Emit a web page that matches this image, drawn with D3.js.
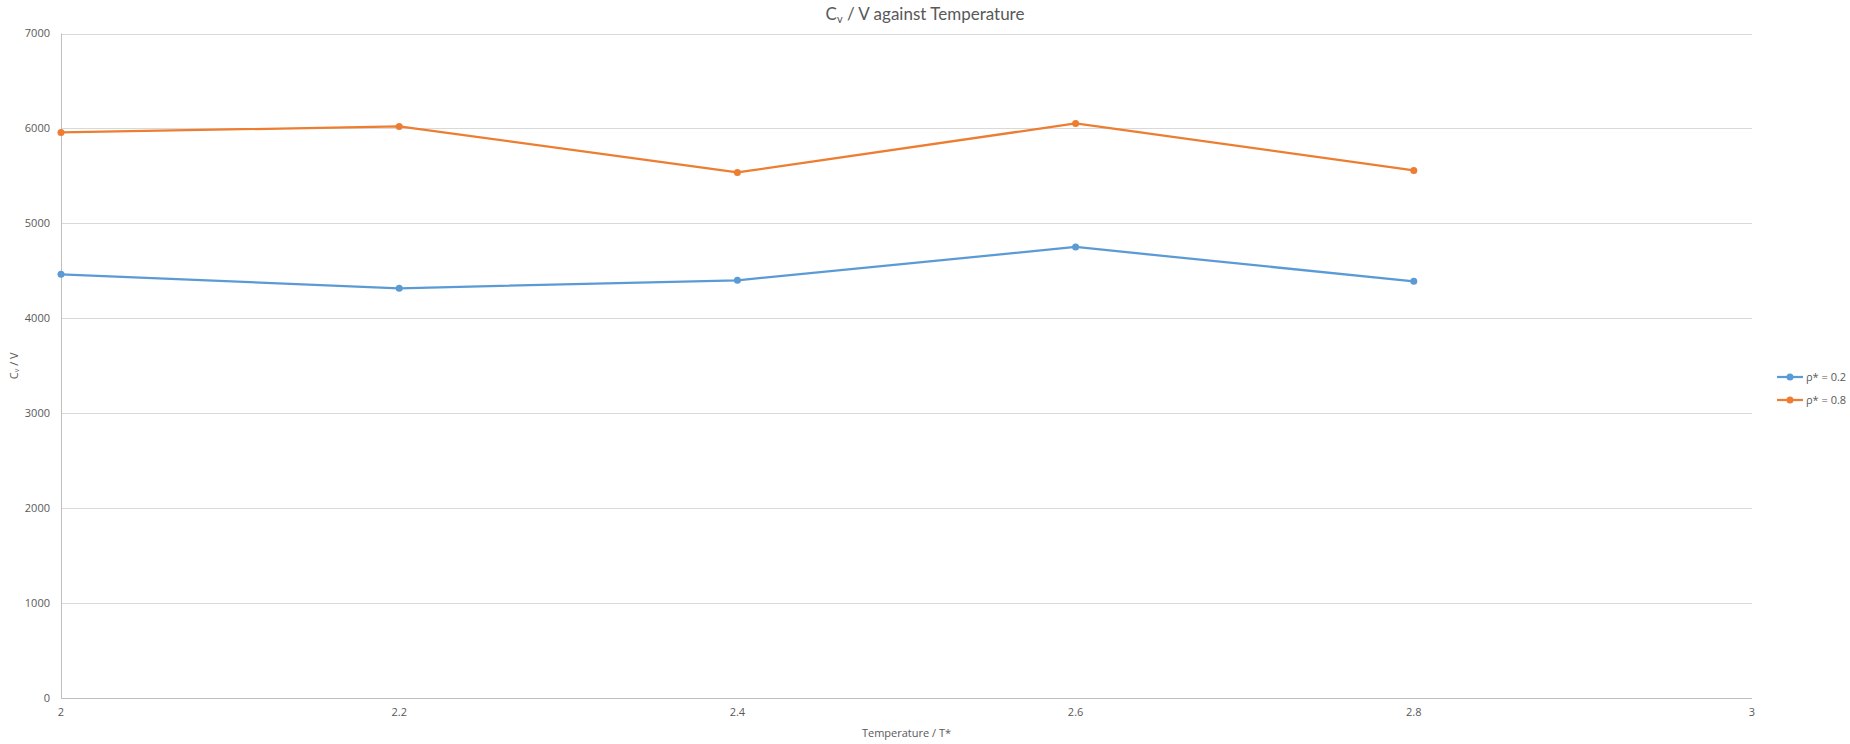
<!DOCTYPE html>
<html lang="en">
<head>
    <meta charset="UTF-8">
    <title>Cv / V against Temperature</title>
    <script src="https://cdn.jsdelivr.net/npm/d3@7"></script>
    <style>
        body {
            margin: 0;
            background: #fff;
        }

        svg text {
            font-family: "Open Sans", "Liberation Sans", sans-serif;
            fill: #595959;
        }

        .grid line {
            stroke: #d9d9d9;
            stroke-width: 1px
        }

        .axis-line {
            stroke: #bfbfbf;
            stroke-width: 1px
        }
    </style>
</head>
<body>
<div id="chart"></div>

<script>
    // values
    var temps = [2, 2.2, 2.4, 2.6, 2.8];
    var cvLow = [4463, 4316, 4400, 4751, 4389];    // rho* = 0.2
    var cvHigh = [5958, 6021, 5537, 6053, 5558];   // rho* = 0.8
    var seriesNames = ['ρ* = 0.2', 'ρ* = 0.8'];
    var seriesColors = ['#5b9bd5', '#ed7d31'];
    var yTicks = [0, 1000, 2000, 3000, 4000, 5000, 6000, 7000];
    var xTicks = [2, 2.2, 2.4, 2.6, 2.8, 3];

    var width = 1850, height = 744;
    var margin = {top: 33.5, right: 98, bottom: 46, left: 61};

    var svg = d3.select('#chart')
        .append('svg')
        .attr('width', width)
        .attr('height', height);

    var x = d3.scaleLinear()
        .domain([2, 3])
        .range([margin.left, width - margin.right]);

    var y = d3.scaleLinear()
        .domain([0, 7000])
        .range([height - margin.bottom, margin.top]);

    // gridlines
    svg.append('g')
        .attr('class', 'grid')
        .selectAll('line')
        .data(yTicks.filter(d => d > 0))
        .enter()
        .append('line')
        .attr('x1', x(2))
        .attr('x2', x(3))
        .attr('y1', d => Math.round(y(d)) + 0.5)
        .attr('y2', d => Math.round(y(d)) + 0.5);

    // axis lines
    svg.append('line')
        .attr('class', 'axis-line')
        .attr('x1', Math.round(x(2)) + 0.5)
        .attr('x2', Math.round(x(2)) + 0.5)
        .attr('y1', y(7000))
        .attr('y2', y(0));
    svg.append('line')
        .attr('class', 'axis-line')
        .attr('x1', x(2))
        .attr('x2', x(3))
        .attr('y1', Math.round(y(0)) + 0.5)
        .attr('y2', Math.round(y(0)) + 0.5);

    // tick labels
    svg.append('g')
        .selectAll('text')
        .data(yTicks)
        .enter()
        .append('text')
        .attr('x', x(2) - 11)
        .attr('y', d => y(d))
        .attr('dy', '0.35em')
        .attr('text-anchor', 'end')
        .style('font-size', '11px')
        .text(d => d);

    svg.append('g')
        .selectAll('text')
        .data(xTicks)
        .enter()
        .append('text')
        .attr('x', d => x(d))
        .attr('y', y(0) + 14)
        .attr('dy', '0.35em')
        .attr('text-anchor', 'middle')
        .style('font-size', '11px')
        .text(d => d);

    // series
    var series = [cvLow, cvHigh];
    var line = d3.line()
        .x((d, i) => x(temps[i]))
        .y(d => y(d));

    series.forEach(function (vals, s) {
        svg.append('path')
            .datum(vals)
            .attr('fill', 'none')
            .attr('stroke', seriesColors[s])
            .attr('stroke-width', 2.25)
            .attr('stroke-linejoin', 'round')
            .attr('d', line);
        svg.append('g')
            .selectAll('circle')
            .data(vals)
            .enter()
            .append('circle')
            .attr('cx', (d, i) => x(temps[i]))
            .attr('cy', d => y(d))
            .attr('r', 3.5)
            .attr('fill', seriesColors[s]);
    });

    // title
    var title = svg.append('text')
        .attr('x', 925)
        .attr('y', 14)
        .attr('dy', '0.35em')
        .attr('text-anchor', 'middle')
        .style('font-size', '17px')
        .style('font-family', 'Lato, "Open Sans", sans-serif');
    title.append('tspan').text('C');
    title.append('tspan').attr('baseline-shift', '-25%').style('font-size', '11px').text('v');
    title.append('tspan').text(' / V against Temperature');

    // axis titles
    svg.append('text')
        .attr('x', (x(2) + x(3)) / 2)
        .attr('y', 733)
        .attr('dy', '0.35em')
        .attr('text-anchor', 'middle')
        .style('font-size', '11px')
        .text('Temperature / T*');

    var ytitle = svg.append('text')
        .attr('transform', 'translate(14,' + ((y(0) + y(7000)) / 2) + ') rotate(-90)')
        .attr('dy', '0.35em')
        .attr('text-anchor', 'middle')
        .style('font-size', '11px');
    ytitle.append('tspan').text('C');
    ytitle.append('tspan').attr('baseline-shift', '-20%').style('font-size', '7px').text('v');
    ytitle.append('tspan').text(' / V');

    // legend
    var legend = svg.append('g')
        .selectAll('g')
        .data(seriesNames)
        .enter()
        .append('g')
        .attr('transform', (d, i) => 'translate(1777,' + (377 + i * 23) + ')');
    legend.append('line')
        .attr('x1', 0)
        .attr('x2', 26)
        .attr('stroke', (d, i) => seriesColors[i])
        .attr('stroke-width', 2.25);
    legend.append('circle')
        .attr('cx', 13)
        .attr('r', 3.5)
        .attr('fill', (d, i) => seriesColors[i]);
    legend.append('text')
        .attr('x', 29)
        .attr('dy', '0.35em')
        .style('font-size', '11px')
        .text(d => d);
</script>
</body>
</html>
